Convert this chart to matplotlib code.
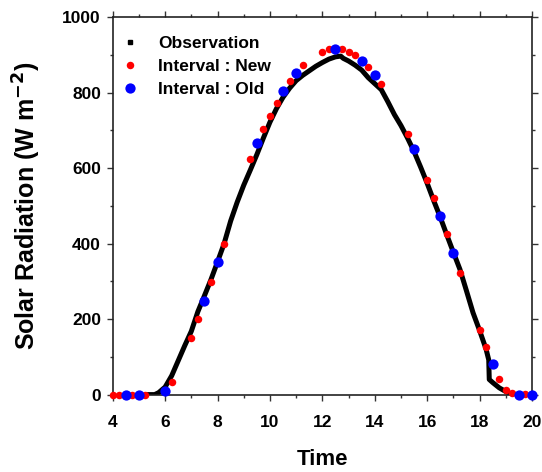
import matplotlib
matplotlib.use('Agg')
import matplotlib.pyplot as plt
from matplotlib.lines import Line2D
from matplotlib.ticker import MultipleLocator

plt.rcParams['font.family'] = ['Liberation Sans', 'DejaVu Sans']
plt.rcParams['font.weight'] = 'bold'

# Observation
obs_time = [5.35, 5.5, 5.6, 5.75, 6.0, 6.25, 6.5, 6.75, 7.0, 7.25, 7.5, 7.75,
            8.0, 8.25, 8.5, 8.75, 9.0, 9.25, 9.5, 9.75, 10.0, 10.25, 10.5,
            10.75, 11.0, 11.25, 11.5, 11.75, 12.0, 12.25, 12.5, 12.7, 12.8,
            13.0, 13.25, 13.5, 13.75, 14.0, 14.25, 14.5, 14.75, 15.0, 15.25,
            15.5, 15.75, 16.0, 16.25, 16.5, 16.75, 17.0, 17.25, 17.5, 17.75,
            18.0, 18.25, 18.35, 18.37, 18.5, 18.75, 19.0, 19.25]
obs_rad = [0, 0, 0, 5, 20, 50, 90, 130, 168, 220, 262, 305,
           352, 400, 460, 510, 555, 595, 636, 680, 722, 758, 788,
           812, 832, 846, 858, 870, 880, 889, 895, 897, 891,
           884, 873, 860, 840, 824, 808, 776, 742, 713, 680,
           644, 603, 560, 514, 470, 423, 377, 332, 275, 217,
           170, 120, 92, 40, 32, 18, 8, 0]

# Interval : New
new_time = [4.0, 4.25, 4.75, 5.25, 6.25, 7.0, 7.25, 7.75, 8.25, 9.25, 9.75,
            10.0, 10.25, 10.75, 11.25, 12.0, 12.25, 12.75, 13.0, 13.25, 13.75,
            14.25, 15.25, 16.0, 16.25, 16.75, 17.25, 18.0, 18.25, 18.75, 19.0,
            19.25, 19.75]
new_rad = [0, 0, 0, 0, 33, 151, 199, 298, 400, 625, 705,
           737, 773, 831, 873, 909, 915, 915, 907, 899, 868,
           824, 690, 569, 520, 425, 323, 171, 125, 42, 13,
           3, 2]

# Interval : Old
old_time = [4.5, 5.0, 6.0, 7.5, 8.0, 9.5, 10.5, 11.0, 12.5, 13.5, 14.0,
            15.5, 16.5, 17.0, 18.5, 19.5, 20.0]
old_rad = [0, 0, 10, 249, 351, 666, 805, 852, 917, 883, 848,
           651, 473, 374, 81, 0, 0]

fig = plt.figure(figsize=(5.42, 4.72), dpi=100)
ax = fig.add_axes([0.208, 0.164, 0.7735, 0.7995])

ax.plot(obs_time, obs_rad, color='black', lw=3.6, zorder=2)
ax.plot(new_time, new_rad, 'o', color='red', ms=5.4, mew=0, zorder=3, clip_on=False)
ax.plot(old_time, old_rad, 'o', color='blue', ms=7.4, mew=0, zorder=4, clip_on=False)

ax.set_xlim(4, 20)
ax.set_ylim(0, 1000)
ax.xaxis.set_major_locator(MultipleLocator(2))
ax.xaxis.set_minor_locator(MultipleLocator(1))
ax.yaxis.set_major_locator(MultipleLocator(200))
ax.yaxis.set_minor_locator(MultipleLocator(100))
ax.tick_params(which='both', direction='out', top=True, right=True, width=1.0, colors='#333333')
ax.tick_params(which='major', length=4.5, labelsize=12.5, labelcolor='black')
ax.tick_params(axis='x', which='major', pad=10)
ax.tick_params(axis='y', which='major', pad=4)
ax.tick_params(which='minor', length=2.5)
for s in ax.spines.values():
    s.set_linewidth(1.2)
    s.set_color('#222222')

ax.set_xlabel('Time', fontsize=16, fontweight='bold', labelpad=14)
ax.set_ylabel('Solar Radiation (W m$^{\\mathbf{-2}}$)', fontsize=18, fontweight='bold', labelpad=14)

handles = [
    Line2D([], [], marker='s', ms=2.5, color='black', ls='none'),
    Line2D([], [], marker='o', ms=5.4, color='red', mew=0, ls='none'),
    Line2D([], [], marker='o', ms=7.4, color='blue', mew=0, ls='none'),
]
ax.legend(handles, ['Observation', 'Interval : New', 'Interval : Old'],
          loc='upper left', bbox_to_anchor=(-0.012, 0.982), frameon=False,
          prop={'size': 12.5, 'weight': 'bold'}, handlelength=1.2,
          handletextpad=1.0, labelspacing=0.45, borderaxespad=0.3)

fig.savefig('out.png', dpi=100)
